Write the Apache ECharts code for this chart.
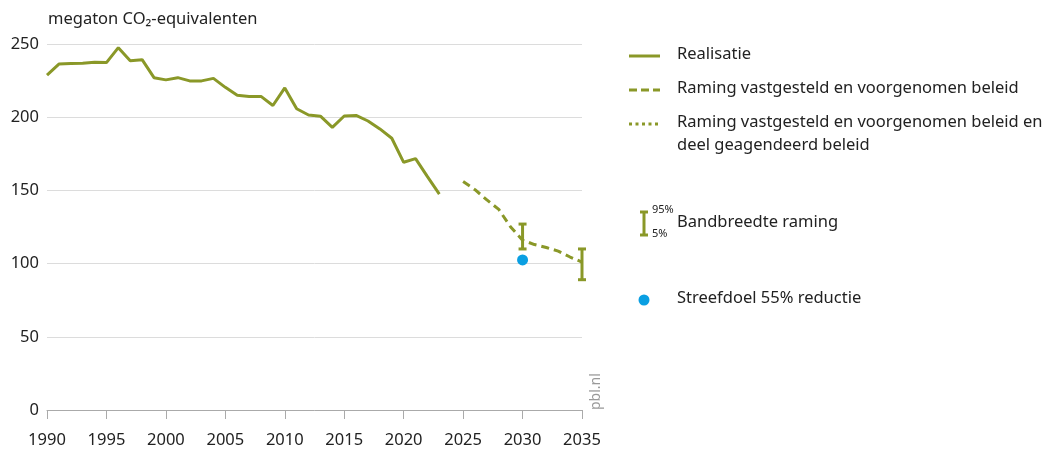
<!DOCTYPE html>
<html><head><meta charset="utf-8">
<script src="https://cdn.jsdelivr.net/npm/echarts@6/dist/echarts.min.js"></script>
<style>html,body{margin:0;padding:0;background:#fff}#c{width:1052px;height:456px}</style>
</head><body><div id="c"></div>
<script>
const realYears = [1990,1991,1992,1993,1994,1995,1996,1997,1998,1999,2000,2001,2002,2003,2004,2005,2006,2007,2008,2009,2010,2011,2012,2013,2014,2015,2016,2017,2018,2019,2020,2021,2022,2023];
const realValues = [228.8,236.3,236.6,236.9,237.5,237.3,247.5,238.6,239.3,227,225.5,227,224.8,224.8,226.5,220.4,215,214.2,214.2,208,220,205.8,201.5,200.7,193.1,200.8,201.2,197.4,192,185.6,169.2,171.7,159.4,147.5];
const projYears = [2025,2026,2027,2028,2029,2030,2031,2032,2033,2034,2035];
const projValues = [156,150.5,143.5,137,125,116,113,111,108.5,104.5,101];
const bandYears = [2030,2035];
const bandLow = [110,89];
const bandHigh = [127,110];
const targetYear = [2030];
const targetValue = [102.5];
const xTicks = [1990,1995,2000,2005,2010,2015,2020,2025,2030,2035];
const legendLabels = ['Realisatie','Raming vastgesteld en voorgenomen beleid','Raming vastgesteld en voorgenomen beleid en','deel geagendeerd beleid','Bandbreedte raming','Streefdoel 55% reductie'];

const OLIVE = '#8a9828';
const BLUE = '#0a9fe2';
const FONT = '"Noto Sans", "Open Sans", sans-serif';
const TXT = '#222';

const chart = echarts.init(document.getElementById('c'));
const zip = (a,b) => a.map((x,i)=>[x,b[i]]);

const legendG = [];
function legText(x,y,t){ legendG.push({type:'text',left:x,top:y,style:{text:t,font:'16.5px '+FONT,fill:TXT}}); }
legendG.push({type:'line',shape:{x1:629,y1:56,x2:660,y2:56},style:{stroke:OLIVE,lineWidth:3}});
legText(677,46,legendLabels[0]);
legendG.push({type:'line',shape:{x1:629,y1:90,x2:660,y2:90},style:{stroke:OLIVE,lineWidth:3,lineDash:[8,4]}});
legText(677,80,legendLabels[1]);
legendG.push({type:'line',shape:{x1:629,y1:124,x2:660,y2:124},style:{stroke:OLIVE,lineWidth:3,lineDash:[3,3.5]}});
legText(677,114,legendLabels[2]);
legText(677,137,legendLabels[3]);
legendG.push({type:'line',shape:{x1:644,y1:212,x2:644,y2:235},style:{stroke:OLIVE,lineWidth:3}});
legendG.push({type:'line',shape:{x1:640,y1:212,x2:648,y2:212},style:{stroke:OLIVE,lineWidth:3}});
legendG.push({type:'line',shape:{x1:640,y1:235,x2:648,y2:235},style:{stroke:OLIVE,lineWidth:3}});
legendG.push({type:'text',left:652,top:204,style:{text:'95%',font:'11px '+FONT,fill:TXT}});
legendG.push({type:'text',left:652,top:228,style:{text:'5%',font:'11px '+FONT,fill:TXT}});
legText(677,214,legendLabels[4]);
legendG.push({type:'circle',shape:{cx:644,cy:300,r:5.5},style:{fill:BLUE}});
legText(677,290,legendLabels[5]);

chart.setOption({
  animation:false,
  textStyle:{fontFamily:FONT},
  grid:{left:47,right:470,top:44,bottom:46,containLabel:false},
  xAxis:{type:'value',min:1990,max:2035,interval:5,
    axisLine:{show:true,lineStyle:{color:'#aaa',width:1}},
    axisTick:{show:true,length:9,lineStyle:{color:'#aaa'}},
    axisLabel:{color:TXT,fontSize:16.5,margin:22,fontFamily:FONT,formatter:v=>String(v)},
    splitLine:{show:false}},
  yAxis:{type:'value',min:0,max:250,interval:50,
    axisLine:{show:false},axisTick:{show:false},
    axisLabel:{color:TXT,fontSize:16.5,margin:8,fontFamily:FONT},
    splitLine:{lineStyle:{color:'#dcdcdc',width:1}}},
  graphic:[
    {type:'text',left:48,top:11,style:{text:'megaton CO₂-equivalenten',font:'16.5px '+FONT,fill:TXT}},
    {type:'text',x:603,y:410,rotation:Math.PI/2,style:{text:'pbl.nl',font:'14px '+FONT,fill:'#999',textAlign:'left',textVerticalAlign:'bottom'}},
    ...legendG
  ],
  series:[
    {name:'Realisatie',type:'line',data:zip(realYears,realValues),showSymbol:false,lineStyle:{color:OLIVE,width:3},itemStyle:{color:OLIVE}},
    {name:'Raming vastgesteld en voorgenomen beleid',type:'line',data:zip(projYears,projValues),showSymbol:false,lineStyle:{color:OLIVE,width:3,type:[8,5]},itemStyle:{color:OLIVE}},
    {name:'Raming vastgesteld en voorgenomen beleid en deel geagendeerd beleid',type:'line',data:[],showSymbol:false,lineStyle:{color:OLIVE,width:3,type:'dotted'}},
    {name:'Bandbreedte raming',type:'custom',data:bandYears.map((y,i)=>[y,bandLow[i],bandHigh[i]]),
      renderItem:function(params,api){
        const lo=api.coord([api.value(0),api.value(1)]);
        const hi=api.coord([api.value(0),api.value(2)]);
        const w=4;
        const st={stroke:OLIVE,lineWidth:3};
        return {type:'group',children:[
          {type:'line',shape:{x1:lo[0],y1:lo[1],x2:hi[0],y2:hi[1]},style:st},
          {type:'line',shape:{x1:lo[0]-w,y1:lo[1],x2:lo[0]+w,y2:lo[1]},style:st},
          {type:'line',shape:{x1:hi[0]-w,y1:hi[1],x2:hi[0]+w,y2:hi[1]},style:st}
        ]};
      }},
    {name:'Streefdoel 55% reductie',type:'scatter',data:zip(targetYear,targetValue),symbolSize:11,itemStyle:{color:BLUE,opacity:1}}
  ]
});
</script></body></html>
